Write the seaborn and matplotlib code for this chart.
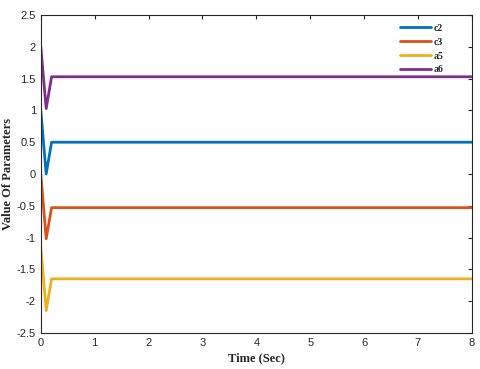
import pandas as pd
import matplotlib.pyplot as plt
import seaborn as sns

# time samples and parameter values
time = [0, 0.1, 0.2, 8]
c2 = [1.0, 0.0, 0.5, 0.5]
c3 = [0.0, -1.02, -0.53, -0.53]
a5 = [-1.15, -2.15, -1.65, -1.65]
a6 = [2.0, 1.03, 1.53, 1.53]

names = ['c2', 'c3', 'a5', 'a6']
colors = ['#0072BD', '#D95319', '#EDB120', '#7E2F8E']

rows = []
for name, vals in zip(names, [c2, c3, a5, a6]):
    for t, v in zip(time, vals):
        rows.append([t, v, name])
df = pd.DataFrame(rows, columns=['Time', 'Value', 'Param'])

sns.set_style('white')
plt.rcParams['font.family'] = ['Liberation Sans', 'DejaVu Sans']

fig = plt.figure(figsize=(4.8, 3.69), dpi=100)
ax = fig.add_axes([0.085, 0.098, 0.898, 0.861])
sns.lineplot(data=df, x='Time', y='Value', hue='Param', palette=colors,
             hue_order=names, linewidth=2, ax=ax, estimator=None, sort=False)

ax.set_xlim(0, 8)
ax.set_ylim(-2.5, 2.5)
ax.set_xticks(range(0, 9))
ax.set_yticks([-2.5, -2, -1.5, -1, -0.5, 0, 0.5, 1, 1.5, 2, 2.5])
ax.set_yticklabels(['-2.5', '-2', '-1.5', '-1', '-0.5', '0', '0.5', '1', '1.5', '2', '2.5'])
ax.tick_params(direction='in', length=3, labelsize=8, colors='#262626',
               top=True, right=True, labeltop=False, labelright=False)
for s in ax.spines.values():
    s.set_color('#262626')
    s.set_linewidth(0.8)

ax.set_xlabel('Time (Sec)', fontsize=9, fontweight='bold', family='Liberation Serif', labelpad=3)
ax.set_ylabel('Value Of Parameters', fontsize=9, fontweight='bold', family='Liberation Serif', labelpad=2)

leg = ax.legend(loc='upper right', frameon=False, handlelength=3.2,
                prop={'family': 'Liberation Serif', 'weight': 'bold', 'size': 7},
                handletextpad=0.3, labelspacing=0.5, bbox_to_anchor=(0.955, 1.0))

plt.savefig('out.png', dpi=100)
